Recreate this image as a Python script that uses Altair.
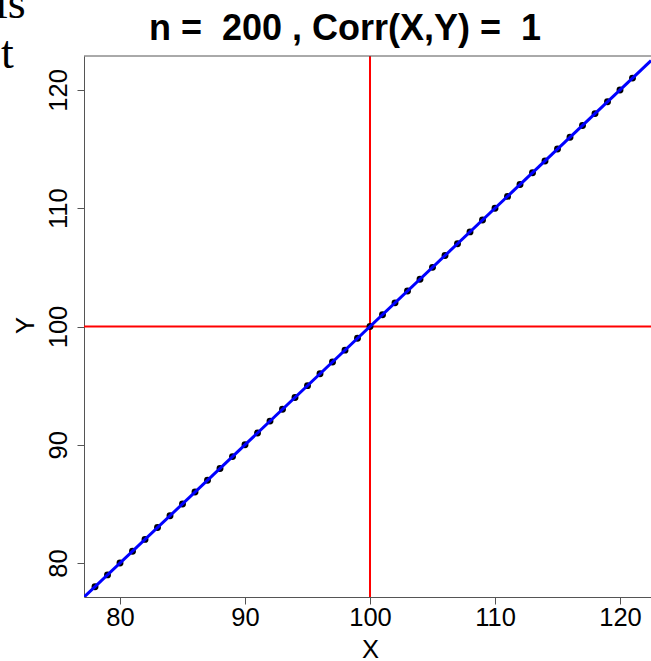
import altair as alt
import pandas as pd

# Observed pairs (perfectly correlated, duplicates collapse onto the same integers)
x_values = [78, 79, 80, 81, 82, 83, 84, 85, 86, 87, 88, 89, 90, 91, 92, 93, 94,
            95, 96, 97, 98, 99, 100, 101, 102, 103, 104, 105, 106, 107, 108,
            109, 110, 111, 112, 113, 114, 115, 116, 117, 118, 119, 120, 121]
y_values = [78, 79, 80, 81, 82, 83, 84, 85, 86, 87, 88, 89, 90, 91, 92, 93, 94,
            95, 96, 97, 98, 99, 100, 101, 102, 103, 104, 105, 106, 107, 108,
            109, 110, 111, 112, 113, 114, 115, 116, 117, 118, 119, 120, 121]
mean_x = 100
mean_y = 100
fit_intercept = 0.0
fit_slope = 1.0
tick_values = [80, 90, 100, 110, 120]
x_domain = [77.12, 122.48]
y_domain = [77.13, 122.87]
title_text = "n =\u00a0 200 , Corr(X,Y) =\u00a0 1"

W, H = 567, 541
SANS = "Liberation Sans"
FRAME = "#555555"
LABEL_SIZE = 25.5

points = pd.DataFrame({"X": x_values, "Y": y_values})
fit = pd.DataFrame({"X": x_domain,
                    "Y": [fit_intercept + fit_slope * v for v in x_domain]})
vline = pd.DataFrame({"X": [mean_x]})
hline = pd.DataFrame({"Y": [mean_y]})
single = pd.DataFrame({"k": [0]})

xscale = alt.Scale(domain=x_domain, nice=False, zero=False)
yscale = alt.Scale(domain=y_domain, nice=False, zero=False)

xaxis = alt.Axis(
    values=tick_values, grid=False, tickSize=7, tickColor=FRAME, tickWidth=1,
    domainColor=FRAME, domainWidth=1, labelFont=SANS, labelFontSize=LABEL_SIZE,
    labelColor="black", labelBaseline="alphabetic", labelPadding=21,
    labelFlush=False, labelOverlap=False,
    title="X", titleFont=SANS, titleFontSize=LABEL_SIZE, titleFontWeight="normal",
    titleColor="black", titleX=286, titleY=60, titleAlign="center",
    titleBaseline="alphabetic",
)
yaxis = alt.Axis(
    values=tick_values, grid=False, tickSize=7, tickColor=FRAME, tickWidth=1,
    domainColor=FRAME, domainWidth=1, labelFont=SANS, labelFontSize=LABEL_SIZE,
    labelColor="black", labelAngle=270, labelAlign="center",
    labelBaseline="alphabetic", labelPadding=11, labelFlush=False,
    labelOverlap=False,
    title="Y", titleFont=SANS, titleFontSize=LABEL_SIZE, titleFontWeight="normal",
    titleColor="black", titleAngle=270, titleX=-50.7, titleY=269,
    titleAlign="center", titleBaseline="alphabetic",
)

xenc = alt.X("X:Q", scale=xscale, axis=xaxis)
yenc = alt.Y("Y:Q", scale=yscale, axis=yaxis)

# Reference lines at the means
v_rule = alt.Chart(vline).mark_rule(color="#FF0000", strokeWidth=2).encode(x=xenc)
h_rule = alt.Chart(hline).mark_rule(color="#FF0000", strokeWidth=2).encode(y=yenc)

dots = alt.Chart(points).mark_circle(color="black", opacity=1, size=48).encode(
    x=xenc, y=yenc)

fit_line = alt.Chart(fit).mark_line(color="#0000FF", strokeWidth=3, clip=True).encode(
    x=xenc, y=yenc)

# Upper edge of the plot box
top_edge = alt.Chart(single).mark_rule(color=FRAME, strokeWidth=1).encode(
    x=alt.value(0), x2=alt.value(W), y=alt.value(0))

title = alt.Chart(single).mark_text(
    text=title_text, font=SANS, fontSize=36, fontWeight="bold", color="black",
    align="center", baseline="alphabetic",
).encode(x=alt.value(261), y=alt.value(-16.5))

side_is = alt.Chart(single).mark_text(
    text="is", font="Liberation Serif", fontSize=46, color="black",
    align="left", baseline="alphabetic",
).encode(x=alt.value(-89), y=alt.value(-38))

side_t = alt.Chart(single).mark_text(
    text="t", font="Liberation Serif", fontSize=46, color="black",
    align="left", baseline="alphabetic",
).encode(x=alt.value(-83), y=alt.value(11.5))

chart = alt.layer(
    v_rule, h_rule, dots, fit_line, top_edge, title, side_is, side_t
).properties(
    width=W, height=H,
    autosize=alt.AutoSizeParams(type="none"),
    padding={"left": 84, "top": 56, "right": 0, "bottom": 64},
    background="white",
).configure_view(stroke="transparent")

chart.save("out.html", embed_options={"renderer": "svg", "actions": False})
